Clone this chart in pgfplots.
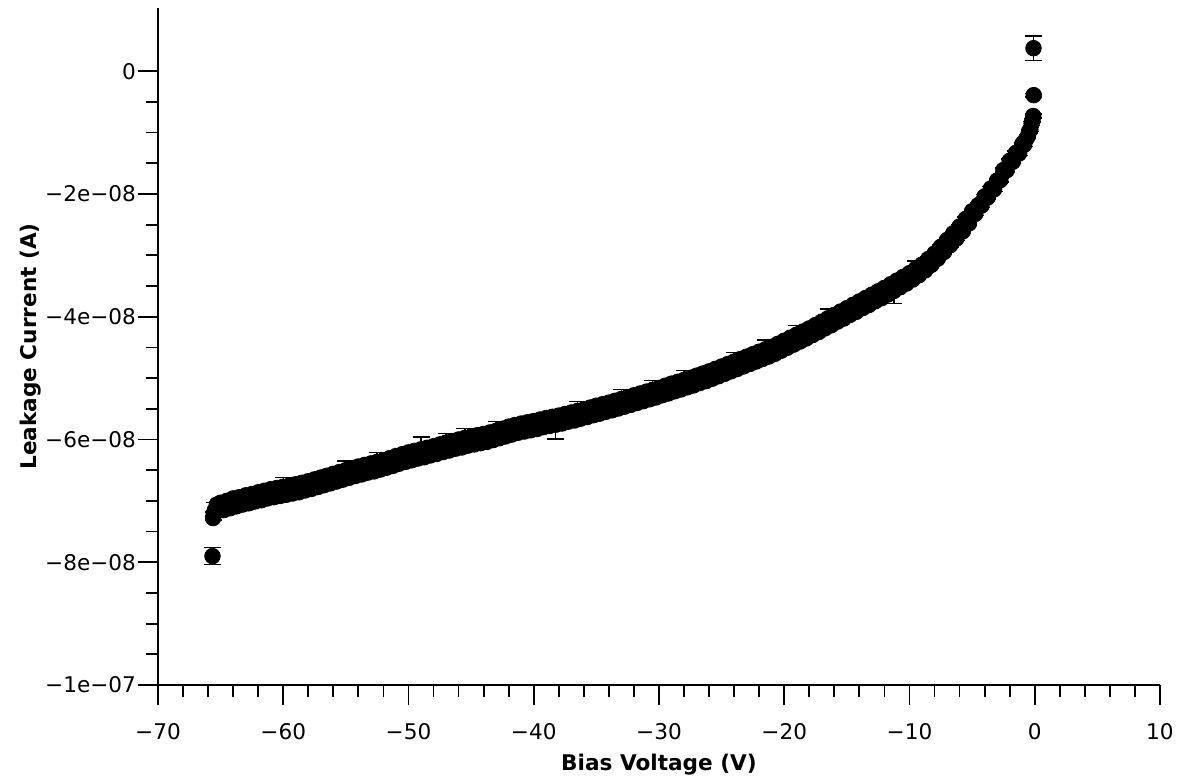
\documentclass[border=0pt]{standalone}
\usepackage{fontspec}
\setmainfont{DejaVu Sans}
\usepackage{pgfplots}
\usepackage{pgfplotstable}
\pgfplotsset{compat=1.18}
\pgfplotstableread{
x y e
-65.65 -7.90e-8 0.14e-8
-65.6 -7.28e-8 0.03e-8
-65.55 -7.21e-8 0.03e-8
-65.45 -7.15e-8 0.12e-8
-65.3 -7.06e-8 0.03e-8
-65.15 -7.13e-8 0.03e-8
-65.00 -7.03e-8 0.03e-8
-64.75 -7.15e-8 0.03e-8
-64.50 -7.00e-8 0.03e-8
-64.25 -7.12e-8 0.03e-8
-64.00 -6.96e-8 0.03e-8
-63.75 -7.09e-8 0.03e-8
-63.50 -6.94e-8 0.03e-8
-63.25 -7.06e-8 0.03e-8
-63.00 -6.91e-8 0.03e-8
-62.75 -7.04e-8 0.03e-8
-62.50 -6.89e-8 0.03e-8
-62.25 -7.01e-8 0.03e-8
-62.00 -6.86e-8 0.03e-8
-61.75 -6.99e-8 0.03e-8
-61.50 -6.835e-8 0.03e-8
-61.25 -6.96e-8 0.03e-8
-61.00 -6.81e-8 0.03e-8
-60.75 -6.94e-8 0.03e-8
-60.50 -6.79e-8 0.03e-8
-60.25 -6.92e-8 0.03e-8
-60.00 -6.77e-8 0.15e-8
-59.75 -6.90e-8 0.03e-8
-59.50 -6.75e-8 0.03e-8
-59.25 -6.88e-8 0.03e-8
-59.00 -6.73e-8 0.03e-8
-58.75 -6.86e-8 0.03e-8
-58.50 -6.705e-8 0.03e-8
-58.25 -6.83e-8 0.03e-8
-58.00 -6.68e-8 0.03e-8
-57.75 -6.805e-8 0.03e-8
-57.50 -6.65e-8 0.03e-8
-57.25 -6.775e-8 0.03e-8
-57.00 -6.62e-8 0.03e-8
-56.75 -6.745e-8 0.03e-8
-56.50 -6.59e-8 0.03e-8
-56.25 -6.715e-8 0.03e-8
-56.00 -6.56e-8 0.03e-8
-55.75 -6.685e-8 0.03e-8
-55.50 -6.53e-8 0.03e-8
-55.25 -6.655e-8 0.03e-8
-55.00 -6.50e-8 0.15e-8
-54.75 -6.625e-8 0.03e-8
-54.50 -6.47e-8 0.03e-8
-54.25 -6.595e-8 0.03e-8
-54.00 -6.44e-8 0.03e-8
-53.75 -6.57e-8 0.03e-8
-53.50 -6.415e-8 0.03e-8
-53.25 -6.54e-8 0.03e-8
-53.00 -6.39e-8 0.03e-8
-52.75 -6.52e-8 0.03e-8
-52.50 -6.365e-8 0.15e-8
-52.25 -6.49e-8 0.03e-8
-52.00 -6.34e-8 0.03e-8
-51.75 -6.46e-8 0.03e-8
-51.50 -6.305e-8 0.03e-8
-51.25 -6.43e-8 0.03e-8
-51.00 -6.27e-8 0.03e-8
-50.75 -6.395e-8 0.03e-8
-50.50 -6.24e-8 0.03e-8
-50.25 -6.365e-8 0.03e-8
-50.00 -6.21e-8 0.03e-8
-49.75 -6.34e-8 0.03e-8
-49.50 -6.185e-8 0.03e-8
-49.25 -6.31e-8 0.03e-8
-49.00 -6.16e-8 0.20e-8
-48.75 -6.29e-8 0.03e-8
-48.50 -6.135e-8 0.03e-8
-48.25 -6.26e-8 0.03e-8
-48.00 -6.11e-8 0.03e-8
-47.75 -6.235e-8 0.03e-8
-47.50 -6.08e-8 0.03e-8
-47.25 -6.205e-8 0.03e-8
-47.00 -6.05e-8 0.15e-8
-46.75 -6.18e-8 0.03e-8
-46.50 -6.025e-8 0.03e-8
-46.25 -6.15e-8 0.03e-8
-46.00 -6.00e-8 0.03e-8
-45.75 -6.13e-8 0.03e-8
-45.50 -5.975e-8 0.15e-8
-45.25 -6.10e-8 0.03e-8
-45.00 -5.95e-8 0.03e-8
-44.75 -6.08e-8 0.03e-8
-44.50 -5.93e-8 0.03e-8
-44.25 -6.06e-8 0.03e-8
-44.00 -5.91e-8 0.03e-8
-43.75 -6.04e-8 0.03e-8
-43.50 -5.885e-8 0.03e-8
-43.25 -6.01e-8 0.03e-8
-43.00 -5.86e-8 0.15e-8
-42.75 -5.98e-8 0.03e-8
-42.50 -5.825e-8 0.03e-8
-42.25 -5.95e-8 0.03e-8
-42.00 -5.79e-8 0.03e-8
-41.75 -5.92e-8 0.03e-8
-41.50 -5.765e-8 0.03e-8
-41.25 -5.89e-8 0.03e-8
-41.00 -5.74e-8 0.03e-8
-40.75 -5.87e-8 0.03e-8
-40.50 -5.72e-8 0.03e-8
-40.25 -5.85e-8 0.03e-8
-40.00 -5.70e-8 0.03e-8
-39.75 -5.83e-8 0.03e-8
-39.50 -5.675e-8 0.03e-8
-39.25 -5.80e-8 0.03e-8
-39.00 -5.65e-8 0.03e-8
-38.75 -5.78e-8 0.03e-8
-38.50 -5.63e-8 0.03e-8
-38.25 -5.76e-8 0.23e-8
-38.00 -5.61e-8 0.03e-8
-37.75 -5.74e-8 0.03e-8
-37.50 -5.585e-8 0.03e-8
-37.25 -5.71e-8 0.03e-8
-37.00 -5.56e-8 0.03e-8
-36.75 -5.69e-8 0.03e-8
-36.50 -5.535e-8 0.15e-8
-36.25 -5.66e-8 0.03e-8
-36.00 -5.51e-8 0.03e-8
-35.75 -5.635e-8 0.03e-8
-35.50 -5.48e-8 0.03e-8
-35.25 -5.605e-8 0.03e-8
-35.00 -5.45e-8 0.03e-8
-34.75 -5.58e-8 0.03e-8
-34.50 -5.425e-8 0.03e-8
-34.25 -5.55e-8 0.03e-8
-34.00 -5.40e-8 0.03e-8
-33.75 -5.525e-8 0.03e-8
-33.50 -5.37e-8 0.03e-8
-33.25 -5.495e-8 0.03e-8
-33.00 -5.34e-8 0.15e-8
-32.75 -5.465e-8 0.03e-8
-32.50 -5.31e-8 0.03e-8
-32.25 -5.435e-8 0.03e-8
-32.00 -5.28e-8 0.03e-8
-31.75 -5.405e-8 0.03e-8
-31.50 -5.25e-8 0.03e-8
-31.25 -5.375e-8 0.03e-8
-31.00 -5.22e-8 0.03e-8
-30.75 -5.345e-8 0.03e-8
-30.50 -5.19e-8 0.15e-8
-30.25 -5.315e-8 0.03e-8
-30.00 -5.16e-8 0.03e-8
-29.75 -5.28e-8 0.03e-8
-29.50 -5.125e-8 0.03e-8
-29.25 -5.25e-8 0.03e-8
-29.00 -5.09e-8 0.03e-8
-28.75 -5.215e-8 0.03e-8
-28.50 -5.06e-8 0.03e-8
-28.25 -5.185e-8 0.03e-8
-28.00 -5.03e-8 0.15e-8
-27.75 -5.15e-8 0.03e-8
-27.50 -4.995e-8 0.03e-8
-27.25 -5.12e-8 0.03e-8
-27.00 -4.96e-8 0.03e-8
-26.75 -5.08e-8 0.03e-8
-26.50 -4.925e-8 0.03e-8
-26.25 -5.05e-8 0.03e-8
-26.00 -4.89e-8 0.03e-8
-25.75 -5.01e-8 0.03e-8
-25.50 -4.85e-8 0.03e-8
-25.25 -4.97e-8 0.03e-8
-25.00 -4.81e-8 0.03e-8
-24.75 -4.93e-8 0.03e-8
-24.50 -4.77e-8 0.03e-8
-24.25 -4.89e-8 0.03e-8
-24.00 -4.73e-8 0.15e-8
-23.75 -4.85e-8 0.03e-8
-23.50 -4.69e-8 0.03e-8
-23.25 -4.81e-8 0.03e-8
-23.00 -4.65e-8 0.03e-8
-22.75 -4.77e-8 0.03e-8
-22.50 -4.61e-8 0.03e-8
-22.25 -4.73e-8 0.03e-8
-22.00 -4.57e-8 0.03e-8
-21.75 -4.69e-8 0.03e-8
-21.50 -4.53e-8 0.15e-8
-21.25 -4.65e-8 0.03e-8
-21.00 -4.49e-8 0.03e-8
-20.75 -4.605e-8 0.03e-8
-20.50 -4.44e-8 0.03e-8
-20.25 -4.555e-8 0.03e-8
-20.00 -4.39e-8 0.03e-8
-19.75 -4.505e-8 0.03e-8
-19.50 -4.34e-8 0.03e-8
-19.25 -4.455e-8 0.03e-8
-19.00 -4.29e-8 0.15e-8
-18.75 -4.405e-8 0.03e-8
-18.50 -4.24e-8 0.03e-8
-18.25 -4.355e-8 0.03e-8
-18.00 -4.19e-8 0.03e-8
-17.75 -4.30e-8 0.03e-8
-17.50 -4.135e-8 0.03e-8
-17.25 -4.25e-8 0.03e-8
-17.00 -4.08e-8 0.03e-8
-16.75 -4.19e-8 0.03e-8
-16.50 -4.025e-8 0.15e-8
-16.25 -4.14e-8 0.03e-8
-16.00 -3.97e-8 0.03e-8
-15.75 -4.08e-8 0.03e-8
-15.50 -3.915e-8 0.03e-8
-15.25 -4.03e-8 0.03e-8
-15.00 -3.86e-8 0.03e-8
-14.75 -3.97e-8 0.03e-8
-14.50 -3.805e-8 0.03e-8
-14.25 -3.92e-8 0.03e-8
-14.00 -3.75e-8 0.03e-8
-13.75 -3.86e-8 0.03e-8
-13.50 -3.695e-8 0.03e-8
-13.25 -3.81e-8 0.03e-8
-13.00 -3.64e-8 0.03e-8
-12.75 -3.75e-8 0.03e-8
-12.50 -3.585e-8 0.03e-8
-12.25 -3.70e-8 0.03e-8
-12.00 -3.53e-8 0.03e-8
-11.75 -3.64e-8 0.03e-8
-11.50 -3.47e-8 0.03e-8
-11.25 -3.58e-8 0.20e-8
-11.00 -3.41e-8 0.03e-8
-10.75 -3.52e-8 0.03e-8
-10.50 -3.35e-8 0.03e-8
-10.25 -3.46e-8 0.03e-8
-10.00 -3.29e-8 0.03e-8
-9.75 -3.395e-8 0.03e-8
-9.50 -3.22e-8 0.13e-8
-9.25 -3.325e-8 0.03e-8
-9.00 -3.15e-8 0.03e-8
-8.75 -3.245e-8 0.03e-8
-8.50 -3.06e-8 0.03e-8
-8.25 -3.155e-8 0.03e-8
-8.00 -2.97e-8 0.03e-8
-7.75 -3.055e-8 0.03e-8
-7.50 -2.86e-8 0.03e-8
-7.25 -2.945e-8 0.03e-8
-7.00 -2.75e-8 0.03e-8
-6.75 -2.835e-8 0.03e-8
-6.50 -2.64e-8 0.03e-8
-6.25 -2.725e-8 0.03e-8
-6.00 -2.53e-8 0.03e-8
-5.75 -2.61e-8 0.03e-8
-5.50 -2.405e-8 0.03e-8
-5.25 -2.48e-8 0.03e-8
-5.00 -2.28e-8 0.03e-8
-4.75 -2.325e-8 0.03e-8
-4.50 -2.18e-8 0.03e-8
-4.25 -2.19e-8 0.03e-8
-4.00 -2.04e-8 0.03e-8
-3.75 -2.055e-8 0.03e-8
-3.50 -1.91e-8 0.03e-8
-3.25 -1.925e-8 0.03e-8
-3.00 -1.78e-8 0.03e-8
-2.75 -1.775e-8 0.03e-8
-2.50 -1.61e-8 0.03e-8
-2.25 -1.615e-8 0.03e-8
-2.00 -1.46e-8 0.03e-8
-1.75 -1.475e-8 0.03e-8
-1.50 -1.33e-8 0.03e-8
-1.25 -1.34e-8 0.03e-8
-1.00 -1.19e-8 0.03e-8
-0.85 -1.20e-8 0.03e-8
-0.70 -1.11e-8 0.03e-8
-0.55 -1.06e-8 0.03e-8
-0.45 -0.98e-8 0.03e-8
-0.35 -0.95e-8 0.03e-8
-0.25 -0.85e-8 0.03e-8
-0.18 -0.80e-8 0.03e-8
-0.12 -0.73e-8 0.03e-8
-0.08 -0.39e-8 0.03e-8
-0.10 0.375e-8 0.20e-8
}\datatable
\begin{document}
\begin{tikzpicture}
\begin{axis}[
  at={(0,0)}, anchor=south west,
  scale only axis,
  width=501pt, height=338.5pt,
  xmin=-70, xmax=10,
  ymin=-1e-7, ymax=1.03e-8,
  axis lines*=left,
  axis line style={line width=1pt},
  tick align=outside,
  major tick length=10pt,
  minor tick length=6pt,
  every tick/.style={black, line width=0.9pt},
  xtick={-70,-60,-50,-40,-30,-20,-10,0,10},
  xticklabels={−70,−60,−50,−40,−30,−20,−10,0,10},
  minor x tick num=4,
  ytick={-1e-7,-8e-8,-6e-8,-4e-8,-2e-8,0},
  yticklabels={−1e−07,−8e−08,−6e−08,−4e−08,−2e−08,0},
  minor y tick num=3,
  scaled x ticks=false, scaled y ticks=false,
  tick label style={font=\fontsize{10.8}{13}\selectfont},
  xticklabel style={yshift=-5.5pt},
  yticklabel style={xshift=2.5pt},
  label style={font=\fontsize{10.8}{13}\selectfont\bfseries},
  xlabel={Bias Voltage (V)},
  ylabel={Leakage Current (A)},
  xlabel style={at={(axis description cs:0.5,-0.1256)}, anchor=base},
  ylabel style={at={(axis description cs:-0.1267,0.5)}, anchor=center},
  clip=false,
]
\addplot+[only marks, black, mark=*, mark size=3.9pt,
  mark options={fill=black, draw=black},
  error bars/.cd, y dir=both, y explicit,
  error bar style={line width=0.7pt, black},
  error mark options={rotate=90, mark size=4.25pt, line width=0.7pt, black}]
  table[x=x, y=y, y error=e]{\datatable};
\end{axis}
\pgfresetboundingbox
\path[use as bounding box] (-79pt,-45.5pt) rectangle (515.5pt,342.5pt);
\end{tikzpicture}
\end{document}
